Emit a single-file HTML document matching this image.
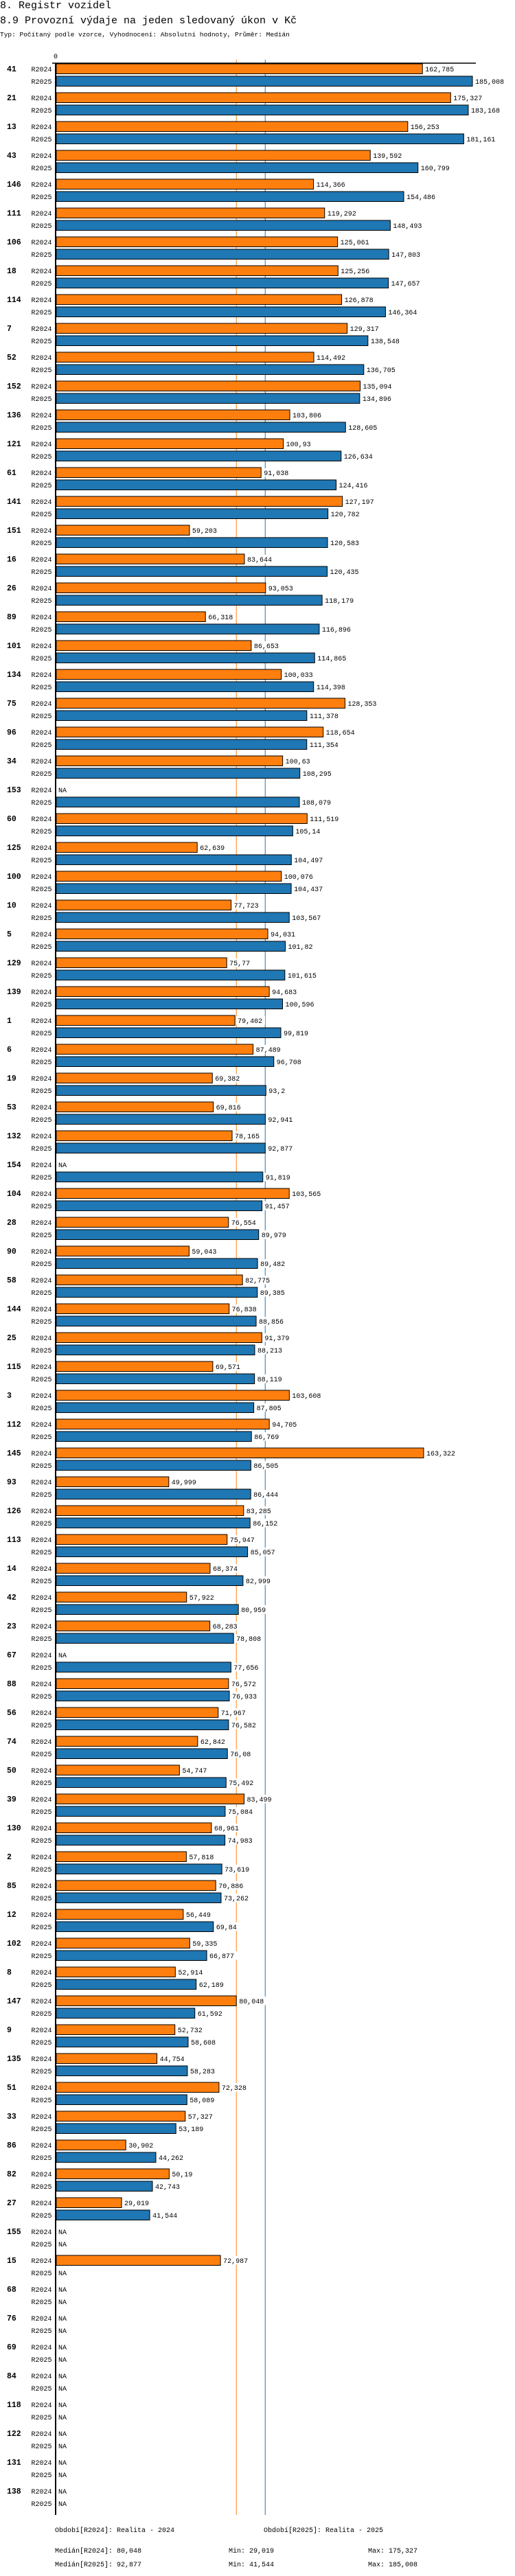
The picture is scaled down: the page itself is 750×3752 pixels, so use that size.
<!DOCTYPE html>
<html><head><meta charset="utf-8">
<style>
html,body{margin:0;padding:0;background:#fff;}
body{width:750px;height:3752px;overflow:hidden;position:relative;font-family:"Liberation Mono",monospace;}
.h{position:absolute;left:0;white-space:nowrap;color:#000;}
svg text{font-family:"Liberation Mono",monospace;}
</style></head><body>
<div class="h" style="top:0px;font-size:15px;">8. Registr vozidel</div>
<div class="h" style="top:22px;font-size:15px;">8.9 Provozní výdaje na jeden sledovaný úkon v Kč</div>
<div class="h" style="top:45px;font-size:9.5px;">Typ: Počítaný podle vzorce, Vyhodnocení: Absolutní hodnoty, Průměr: Medián</div>
<svg id="chart" width="750" height="3752" style="position:absolute;left:0;top:0;"></svg>
<script>
const categories=["41","21","13","43","146","111","106","18","114","7","52","152","136","121","61","141","151","16","26","89","101","134","75","96","34","153","60","125","100","10","5","129","139","1","6","19","53","132","154","104","28","90","58","144","25","115","3","112","145","93","126","113","14","42","23","67","88","56","74","50","39","130","2","85","12","102","8","147","9","135","51","33","86","82","27","155","15","68","76","69","84","118","122","131","138"];
const values2024=[162785,175327,156253,139592,114366,119292,125061,125256,126878,129317,114492,135094,103806,100930,91038,127197,59203,83644,93053,66318,86653,100033,128353,118654,100630,null,111519,62639,100076,77723,94031,75770,94683,79402,87489,69382,69816,78165,null,103565,76554,59043,82775,76838,91379,69571,103608,94705,163322,49999,83285,75947,68374,57922,68283,null,76572,71967,62842,54747,83499,68961,57818,70886,56449,59335,52914,80048,52732,44754,72328,57327,30902,50190,29019,null,72987,null,null,null,null,null,null,null,null];
const values2025=[185008,183168,181161,160799,154486,148493,147803,147657,146364,138548,136705,134896,128605,126634,124416,120782,120583,120435,118179,116896,114865,114398,111378,111354,108295,108079,105140,104497,104437,103567,101820,101615,100596,99819,96708,93200,92941,92877,91819,91457,89979,89482,89385,88856,88213,88119,87805,86769,86505,86444,86152,85057,82999,80959,78808,77656,76933,76582,76080,75492,75084,74983,73619,73262,69840,66877,62189,61592,58608,58283,58089,53189,44262,42743,41544,null,null,null,null,null,null,null,null,null,null];
const seriesNames=["R2024","R2025"];
const seriesColors=["#ff7f0e","#1f77b4"];
const medians=[80048,92877];
const footerPeriods=["Období[R2024]: Realita - 2024","Období[R2025]: Realita - 2025"];
const footerStats=[["Medián[R2024]: 80,048","Min: 29,019","Max: 175,327"],["Medián[R2025]: 92,877","Min: 41,544","Max: 185,008"]];

const NS="http://www.w3.org/2000/svg";
const svg=document.getElementById('chart');
const X0=82, K=(688-82)/185008, TOP=93, PITCH=42, BH=14.5, AXIS_BOTTOM=3663;
const xScale=v=>X0+v*K;
const yRow=(i,s)=>TOP+i*PITCH+s*18;
function el(tag,attrs,text){const e=document.createElementNS(NS,tag);for(const k in attrs)e.setAttribute(k,attrs[k]);if(text!==undefined)e.textContent=text;svg.appendChild(e);return e;}
function fmt(v){return String(Number((v/1000).toFixed(3))).replace('.',',');}

// median lines
medians.forEach((m,s)=>{
  const l=el('line',{x1:xScale(m),x2:xScale(m),y1:87,y2:AXIS_BOTTOM,stroke:seriesColors[s],'stroke-width':1});
  
  
});
// top axis
const ta=el('line',{x1:76,x2:693,y1:92,y2:92,stroke:'#000','stroke-width':1.5});


const zt=el('text',{x:xScale(0)-1,y:85,'font-size':10,'text-anchor':'middle'},'0');



categories.forEach((c,i)=>{
  const gl=el('text',{x:10,y:yRow(i,0)+11,'font-size':11.5,'font-weight':'bold'},c);
  
  
  [values2024,values2025].forEach((arr,s)=>{
    const y=yRow(i,s), v=arr[i];
    const sl=el('text',{x:75.5,y:y+11,'font-size':10,'text-anchor':'end'},seriesNames[s]);
    
    
    if(v==null){
      const na=el('text',{x:85,y:y+11,'font-size':10},'NA');
      
      
      return;
    }
    const r=el('rect',{x:X0,y:y,width:xScale(v)-X0,height:BH,fill:seriesColors[s],stroke:'#000','stroke-width':1});
    
    
    const txt=fmt(v);
    const bx=xScale(v)+2;
    const bg=el('rect',{x:bx,y:y+1,width:txt.length*6+6,height:BH-2,fill:'#fff'});
    
    
    const vl=el('text',{x:bx+2,y:y+11,'font-size':10},txt);
    
    
  });
});
// y axis
const ya=el('line',{x1:81,x2:81,y1:92,y2:AXIS_BOTTOM,stroke:'#000','stroke-width':2});



// footer
footerPeriods.forEach((t,s)=>{
  const f=el('text',{x:s?384:80,y:3688,'font-size':10},t);
  
  
});
const fx=[80,333,536];
footerStats.forEach((row,s)=>{
  row.forEach((t,j)=>{
    const f=el('text',{x:fx[j],y:3718+s*20,'font-size':10},t);
    
    
  });
});
</script>
</body></html>
